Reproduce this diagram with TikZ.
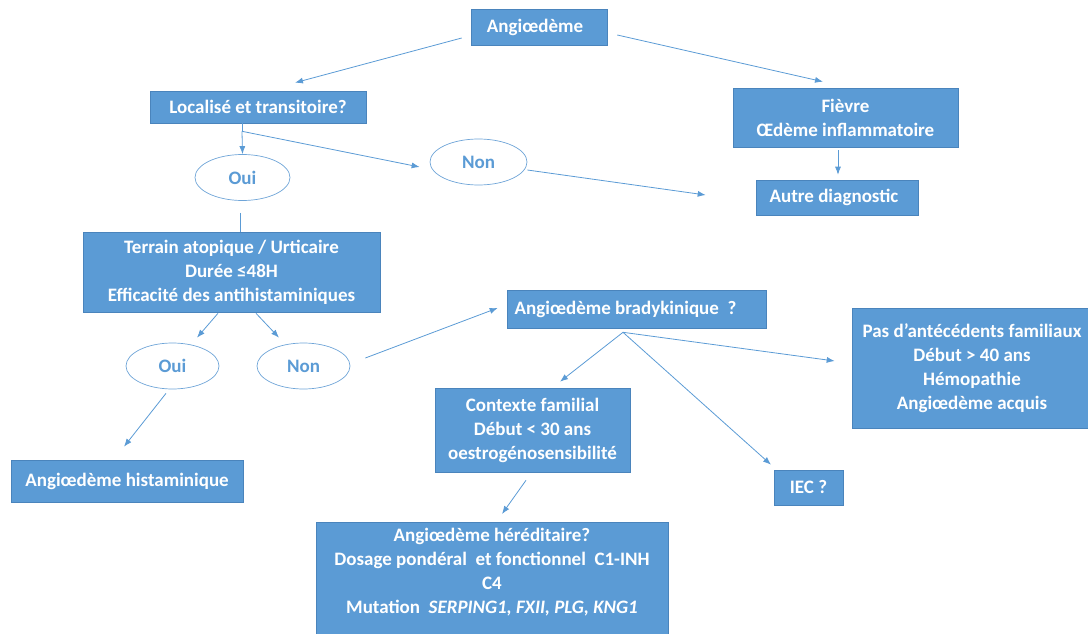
\documentclass[tikz,border=0pt]{standalone}
\usepackage{fontspec}
\setmainfont{Carlito}
\usetikzlibrary{shapes.geometric, arrows, arrows.meta}

\definecolor{boxblue}{HTML}{5B9BD5}
\definecolor{boxedge}{HTML}{4A84BC}
\definecolor{ovaledge}{HTML}{6FA5D8}

\tikzset{
	box/.style={rectangle, fill=boxblue, draw=boxedge, line width=0.6pt, text=white,
		font=\bfseries\fontsize{19}{24}\selectfont, align=center, inner sep=0pt},
	oval/.style={ellipse, draw=ovaledge, line width=0.7pt, fill=white, text=boxblue,
		font=\bfseries\fontsize{19}{24}\selectfont, inner sep=0pt,
		minimum width=95pt, minimum height=46pt},
	arr/.style={-{Latex[length=8pt,width=6pt]}, draw=boxblue, line width=0.8pt},
	link/.style={draw=boxblue, line width=0.8pt}
}

\begin{document}
\begin{tikzpicture}[x=1pt,y=-1pt]
	\useasboundingbox (0,0) rectangle (1088,634);

	%top level
	\node[box, minimum width=136pt, minimum height=36pt] (angio) at (539,27) {Angiœdème\hspace{8pt}};
	\node[box, minimum width=216pt, minimum height=32pt] (local) at (258,107) {Localisé\ et transitoire?};
	\node[box, minimum width=225pt, minimum height=59pt] (fievre) at (845.5,117.5) {Fièvre\\Œdème inflammatoire};
	\node[box, minimum width=162pt, minimum height=35pt] (autre) at (837,197.5) {Autre diagnostic\hspace{6pt}};

	%first answers
	\node[oval] (oui1) at (242.5,177.5) {Oui};
	\node[oval, minimum width=97pt] (non1) at (478.5,162) {Non};

	%histaminic branch
	\node[box, minimum width=297pt, minimum height=80pt] (terrain) at (231.5,272)
		{Terrain\ atopique\ /\ Urticaire\\Durée ≤48H\\Efficacité\ des antihistaminiques};
	\node[oval, minimum width=93pt] (oui2) at (172.5,366) {Oui};
	\node[oval, minimum width=93pt] (non2) at (303.5,366) {Non};
	\node[box, minimum width=232pt, minimum height=42pt] (hist) at (127,481) {Angiœdème histaminique};

	%bradykinic branch
	\node[box, minimum width=259pt, minimum height=38pt] (brady) at (636.5,309) {Angiœdème bradykinique\ \ ?\hspace{22pt}};
	\node[box, minimum width=240pt, minimum height=120pt] (pas) at (972,368)
		{Pas d’antécédents\ familiaux\\Début > 40 ans\\Hémopathie\\Angiœdème acquis};
	\node[box, minimum width=195pt, minimum height=84pt] (contexte) at (532.5,430)
		{Contexte familial\\Début < 30 ans\\oestrogénosensibilité};
	\node[box, minimum width=69pt, minimum height=35pt] (iec) at (808.5,487.5) {IEC ?};
	\node[box, anchor=north, minimum width=352pt, text depth=38pt, inner ysep=6pt] (hered) at (492,522)
		{Angiœdème héréditaire?\\Dosage pondéral\ \ et fonctionnel\ \ C1-INH\\C4\\Mutation\ \ \textit{SERPING1, FXII, PLG, KNG1}};

	%split points
	\coordinate (split1) at ([xshift=-16pt,yshift=-8pt]local.south);	%below local
	\coordinate (split2) at ([xshift=-13.5pt,yshift=-4pt]brady.south);	%below brady

	%top arrows
	\draw[arr] ([xshift=-9pt,yshift=-11pt]angio.west) -- ([xshift=37pt,yshift=8pt]local.north);		%left
	\draw[arr] ([xshift=10pt,yshift=-8pt]angio.east) -- ([xshift=-22.5pt,yshift=6pt]fievre.north);	%right
	\draw[arr] ([xshift=-7.5pt,yshift=-3pt]fievre.south) -- ([xshift=1pt,yshift=5pt]autre.north);	%down

	%first answers
	\draw[link] (local.south -| split1) -- (split1);
	\draw[arr] (split1) -- (oui1.north);
	\draw[arr] (split1) -- ([xshift=-10pt,yshift=-5pt]non1.west);
	\draw[arr] ([yshift=-8pt]non1.east) -- ([xshift=-50pt,yshift=2.5pt]autre.west);
	\draw[link] ([xshift=-2.5pt,yshift=-12pt]oui1.south) -- ([xshift=8.5pt]terrain.north);

	%terrain arrows
	\draw[arr] ([xshift=-13.5pt,yshift=-1pt]terrain.south) -- ([xshift=24.5pt,yshift=5pt]oui2.north);
	\draw[arr] ([xshift=24.5pt,yshift=-1pt]terrain.south) -- ([xshift=-24.5pt,yshift=5pt]non2.north);
	\draw[arr] ([xshift=-6.5pt,yshift=-4pt]oui2.south) -- ([xshift=-3pt,yshift=13pt]hist.north);
	\draw[arr] ([xshift=15pt,yshift=8pt]non2.east) -- ([xshift=-9pt,yshift=1pt]brady.west);

	%brady arrows
	\draw[arr] (split2) -- ([xshift=27.5pt,yshift=6pt]contexte.north);
	\draw[arr] (split2) -- ([xshift=-37.5pt,yshift=5pt]iec.north);
	\draw[arr] (split2) -- ([xshift=-17pt,yshift=7pt]pas.west);
	\draw[arr] ([xshift=-6.5pt,yshift=-8pt]contexte.south) -- ([xshift=10pt,yshift=8pt]hered.north);
\end{tikzpicture}
\end{document}
